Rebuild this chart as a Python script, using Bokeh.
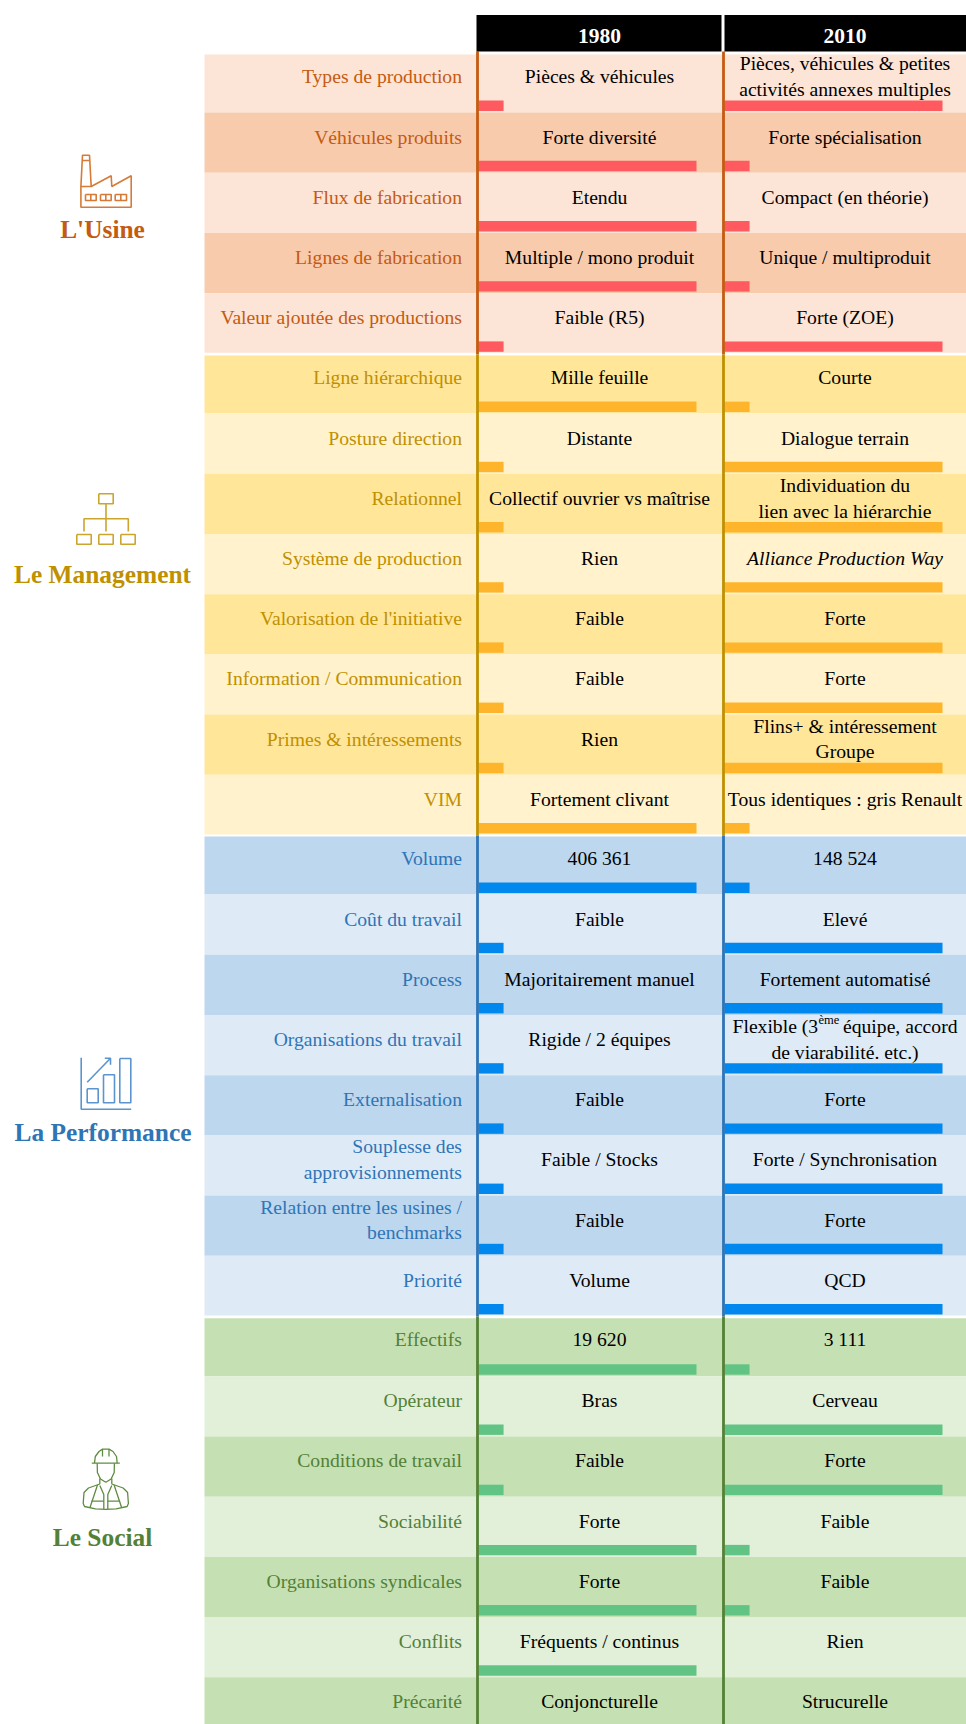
from bokeh.plotting import figure
from bokeh.models import Range1d
from bokeh.core.properties import value
from bokeh.embed import file_html
from bokeh.resources import INLINE

# ---------- data ----------
years = ["1980", "2010"]
group_names = ["L'Usine", "Le Management", "La Performance", "Le Social"]

usine_labels = ["Types de production", "Véhicules produits", "Flux de fabrication",
                "Lignes de fabrication", "Valeur ajoutée des productions"]
usine_1980 = ["Pièces & véhicules", "Forte diversité", "Etendu", "Multiple / mono produit", "Faible (R5)"]
usine_2010 = ["Pièces, véhicules & petites\nactivités annexes multiples", "Forte spécialisation",
              "Compact (en théorie)", "Unique / multiproduit", "Forte (ZOE)"]
usine_lvl_1980 = [11.5, 100, 100, 100, 11.5]
usine_lvl_2010 = [100, 11.5, 11.5, 11.5, 100]

mgmt_labels = ["Ligne hiérarchique", "Posture direction", "Relationnel", "Système de production",
               "Valorisation de l'initiative", "Information / Communication",
               "Primes & intéressements", "VIM"]
mgmt_1980 = ["Mille feuille", "Distante", "Collectif ouvrier vs maîtrise", "Rien", "Faible", "Faible",
             "Rien", "Fortement clivant"]
mgmt_2010 = ["Courte", "Dialogue terrain", "Individuation du\nlien avec la hiérarchie",
             "Alliance Production Way", "Forte", "Forte", "Flins+ & intéressement\nGroupe",
             "Tous identiques : gris Renault"]
mgmt_lvl_1980 = [100, 11.5, 11.5, 11.5, 11.5, 11.5, 11.5, 100]
mgmt_lvl_2010 = [11.5, 100, 100, 100, 100, 100, 100, 11.5]

perf_labels = ["Volume", "Coût du travail", "Process", "Organisations du travail", "Externalisation",
               "Souplesse des\napprovisionnements", "Relation entre les usines /\nbenchmarks", "Priorité"]
perf_1980 = ["406 361", "Faible", "Majoritairement manuel", "Rigide / 2 équipes", "Faible",
             "Faible / Stocks", "Faible", "Volume"]
perf_2010 = ["148 524", "Elevé", "Fortement automatisé", "", "Forte", "Forte / Synchronisation",
             "Forte", "QCD"]
perf_lvl_1980 = [100, 11.5, 11.5, 11.5, 11.5, 11.5, 11.5, 11.5]
perf_lvl_2010 = [11.5, 100, 100, 100, 100, 100, 100, 100]

social_labels = ["Effectifs", "Opérateur", "Conditions de travail", "Sociabilité",
                 "Organisations syndicales", "Conflits", "Précarité"]
social_1980 = ["19 620", "Bras", "Faible", "Forte", "Forte", "Fréquents / continus", "Conjoncturelle"]
social_2010 = ["3 111", "Cerveau", "Forte", "Faible", "Faible", "Rien", "Strucurelle"]
social_lvl_1980 = [100, 11.5, 11.5, 100, 100, 100, 0]
social_lvl_2010 = [11.5, 100, 100, 11.5, 11.5, 0, 0]

# ---------- styles / layout ----------
FONT = value("Liberation Serif")
SIZE = "19.65px"
groups = [
    dict(labels=usine_labels, a=usine_1980, b=usine_2010, la=usine_lvl_1980, lb=usine_lvl_2010,
         top=54.0, first_light=True, light="#FCE4D6", dark="#F8CBAD", text="#C55A11", bar="#FF5A5F",
         line_top=51, line_bottom=354, title_y=228, icon="#D57A37"),
    dict(labels=mgmt_labels, a=mgmt_1980, b=mgmt_2010, la=mgmt_lvl_1980, lb=mgmt_lvl_2010,
         top=355.0, first_light=False, light="#FFF2CC", dark="#FFE699", text="#BF9000", bar="#FFB52B",
         line_top=354, line_bottom=835, title_y=573, icon="#CBA52E"),
    dict(labels=perf_labels, a=perf_1980, b=perf_2010, la=perf_lvl_1980, lb=perf_lvl_2010,
         top=836.0, first_light=False, light="#DEEAF6", dark="#BDD7EE", text="#2E75B6", bar="#0088EE",
         line_top=835, line_bottom=1316, title_y=1131, icon="#5B94CE"),
    dict(labels=social_labels, a=social_1980, b=social_2010, la=social_lvl_1980, lb=social_lvl_2010,
         top=1317.7, first_light=False, light="#E2EFD9", dark="#C5E0B3", text="#538135", bar="#62C484",
         line_top=1316, line_bottom=1724, title_y=1536, icon="#5F8C42"),
]
TABLE_L, LABEL_X, COL1, COL2, RIGHT = 204, 461.5, 478, 724, 966
CENTER1, CENTER2 = 599, 844.5
PX_PER_UNIT = 2.18
FIRST_H, ROW_H = 58.1, 60.2

p = figure(width=966, height=1724, x_range=Range1d(0, 966), y_range=Range1d(1724, 0),
           output_backend="svg", toolbar_location=None, min_border=0)
p.axis.visible = False
p.grid.visible = False
p.outline_line_color = None


def put_text(x, y, s, color, align, **kw):
    lines = s.split("\n")
    off = (len(lines) - 1) * 12.9
    for i, ln in enumerate(lines):
        p.text([x], [y - off + i * 25.8], text=[ln], text_font=FONT, text_color=color, text_align=align,
               text_baseline="middle", text_font_size=kw.get("size", SIZE),
               text_font_style=kw.get("style", "normal"))


# rows
all_bars = []
for g in groups:
    t = g["top"]
    for i, lab in enumerate(g["labels"]):
        h = FIRST_H if i == 0 else ROW_H
        bottom = min(t + h, 1724.5) if not (i == len(g["labels"]) - 1 and g is not groups[3]) else t + h - 0.6
        light = (i % 2 == 0) == g["first_light"]
        p.quad(left=[TABLE_L], right=[RIGHT], top=[t], bottom=[bottom],
               fill_color=g["light"] if light else g["dark"], line_color=None)
        cy = t + h - 36.3 - (0.6 if i == 0 else 0)
        put_text(LABEL_X, cy, lab, g["text"], "right")
        put_text(CENTER1, cy, g["a"][i], "#000000", "center")
        style = "italic" if g["b"][i] == "Alliance Production Way" else "normal"
        if g["b"][i]:
            put_text(CENTER2, cy, g["b"][i], "#000000", "center", style=style)
        else:
            p.text([732], [cy - 13], text=["Flexible (3"], text_font=FONT, text_color="#000000",
                   text_baseline="middle", text_font_size=SIZE)
            p.text([818], [cy - 19], text=["ème"], text_font=FONT, text_color="#000000",
                   text_baseline="middle", text_font_size="12.5px")
            p.text([957], [cy - 13], text=["équipe, accord"], text_font=FONT, text_color="#000000",
                   text_align="right", text_baseline="middle", text_font_size=SIZE)
            put_text(CENTER2, cy + 13.5, "de viarabilité. etc.)", "#000000", "center")
        for col, lev in ((COL1, g["la"][i]), (COL2, g["lb"][i])):
            if lev:
                all_bars.append((col, col + lev * PX_PER_UNIT, t + h - 12, t + h - 1.6, g["bar"]))
        t += h

# bars sit above the texts, as in the original
for l, r, tp, bt, c in all_bars:
    p.quad(left=[l], right=[r], top=[tp], bottom=[bt], fill_color=c, line_color=None)

# column rules
for g in groups:
    for x in (477.0, 723.0):
        p.line([x, x], [g["line_top"], g["line_bottom"]], line_color=g["text"], line_width=2.8)

# header
p.quad(left=[476, 724], right=[721, RIGHT], top=[14.5, 14.5], bottom=[51, 51],
       fill_color="#000000", line_color=None)
for x, y in zip((CENTER1, CENTER2), years):
    p.text([x], [35], text=[y], text_font=FONT, text_color="#FFFFFF", text_align="center",
           text_baseline="middle", text_font_size="21.5px", text_font_style="bold")

# group titles
for g, name, x in zip(groups, group_names, (102, 102, 102.5, 102)):
    p.text([x], [g["title_y"]], text=[name], text_font=FONT, text_color=g["text"], text_align="center",
           text_baseline="middle", text_font_size="25.4px", text_font_style="bold")


def poly(color, *paths, w=1.6):
    for path in paths:
        p.line([q[0] for q in path], [q[1] for q in path], line_color=color, line_width=w)


def box(x0, y0, x1, y1):
    return [(x0, y0), (x1, y0), (x1, y1), (x0, y1), (x0, y0)]


# factory icon
c = groups[0]["icon"]
poly(c,
     [(80.4, 186), (82, 154.7), (89, 154.7), (90.7, 186), (110.7, 175.3), (111.3, 186), (130.7, 175.3),
      (130.7, 206.7), (80.4, 206.7), (80.4, 186), (90.7, 186)],
     [(81.8, 160), (89.2, 160)],
     box(85, 194, 95.7, 200), [(90.3, 194), (90.3, 200)],
     box(100, 194, 110.7, 200), [(105.3, 194), (105.3, 200)],
     box(114.7, 194, 126, 200), [(120.3, 194), (120.3, 200)])

# organisation chart icon
c = groups[1]["icon"]
poly(c,
     box(98.3, 493.3, 112.7, 503.3),
     [(105.5, 503.3), (105.5, 531)],
     [(83.5, 531), (83.5, 518.3), (127.8, 518.3), (127.8, 531)],
     box(76.3, 534, 90.7, 543.7), box(98.3, 534, 112.7, 543.7), box(120.3, 534, 134.7, 543.7))

# performance icon
c = groups[2]["icon"]
poly(c,
     [(80.7, 1057.3), (80.7, 1108.7), (130.7, 1108.7)],
     box(86.7, 1088.3, 97.7, 1102.3), box(103, 1074.3, 114, 1102.3), box(119.3, 1058, 130.3, 1102.3),
     [(86.7, 1081.7), (110, 1057.7)],
     [(104.3, 1057.7), (110, 1057.7), (110, 1064.3)])

# worker icon
c = groups[3]["icon"]
poly(c,
     [(91.3, 1462.7), (119.3, 1462.7)],
     [(94, 1462.7), (94.8, 1456), (98.5, 1451), (102, 1448.6), (108.5, 1448.6), (112.5, 1451),
      (116, 1456), (116.7, 1462.7)],
     [(102, 1448.6), (102, 1456)], [(108.5, 1448.6), (108.5, 1456)],
     [(96.7, 1462.7), (96.9, 1472), (100, 1478.5), (105.3, 1481.8), (110.6, 1478.5), (113.7, 1472),
      (113.9, 1462.7)],
     [(99.3, 1478), (99.3, 1483.5), (88, 1487.5), (83.5, 1492), (82.7, 1503), (84, 1506), (95, 1508.3),
      (105.3, 1508.8), (115.6, 1508.3), (126.6, 1506), (127.9, 1503), (127.1, 1492), (122.6, 1487.5),
      (111.3, 1483.5), (111.3, 1478)],
     [(97, 1484.5), (89.5, 1507)], [(113.6, 1484.5), (121.1, 1507)],
     [(99.3, 1485), (103.3, 1494), (103.3, 1508.5)], [(111.3, 1485), (107.3, 1494), (107.3, 1508.5)],
     [(91, 1500.7), (103.3, 1500.7)], [(107.3, 1500.7), (119.6, 1500.7)],
     w=1.3)

open("out.html", "w").write(file_html(p, INLINE))
